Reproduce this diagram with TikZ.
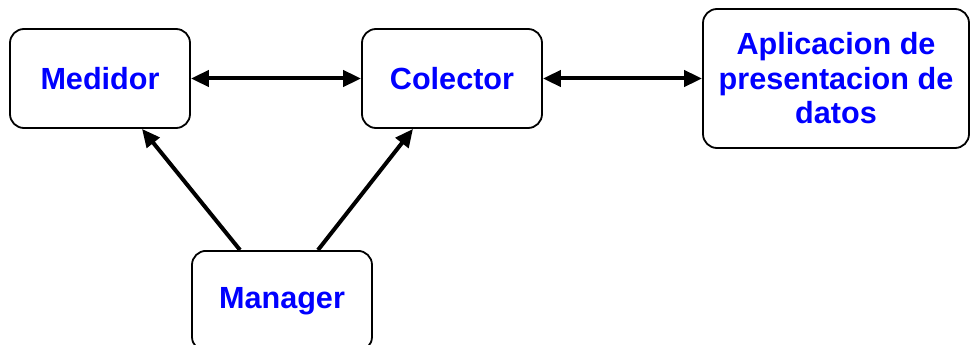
\documentclass[tikz,border=0pt]{standalone}
\usepackage{fontspec}
\setmainfont{Liberation Sans}
\usetikzlibrary{arrows.meta}
\definecolor{labelblue}{RGB}{0,0,255}
\begin{document}
\begin{tikzpicture}[x=1pt,y=-1pt,
  box/.style={draw=black, line width=1.8pt, rounded corners=14pt, fill=white,
    inner sep=0pt, align=center, text=labelblue,
    font=\fontsize{30.6}{34.5}\selectfont\bfseries},
  link/.style={line width=4pt, -{Triangle[length=18pt,width=16pt]}},
  biglink/.style={line width=4pt, {Triangle[length=18pt,width=16pt]}-{Triangle[length=18pt,width=16pt]}}]
  \useasboundingbox (0,0) rectangle (970,345);
  \begin{scope}
    \clip (0,0) rectangle (970,345);
    \node[box, minimum width=180pt, minimum height=99pt] (medidor) at (100,78.5) {Medidor};
    \node[box, minimum width=180pt, minimum height=99pt] (colector) at (452,78.5) {Colector};
    \node[box, minimum width=266pt, minimum height=139pt] (app) at (836,78.5)
      {Aplicacion de\\presentacion de\\datos};
    \node[box, minimum width=180pt, minimum height=100pt, text height=22pt, text depth=6pt,
      anchor=north] (manager) at (282,250) {Manager};
  \end{scope}
  \draw[biglink] (medidor.east) -- (colector.west);
  \draw[biglink] (colector.east) -- (app.west |- colector.east);
  \draw[link] ([xshift=-42pt]manager.north) -- ([xshift=42pt]medidor.south);
  \draw[link] ([xshift=36pt]manager.north) -- ([xshift=-39pt]colector.south);
\end{tikzpicture}
\end{document}
